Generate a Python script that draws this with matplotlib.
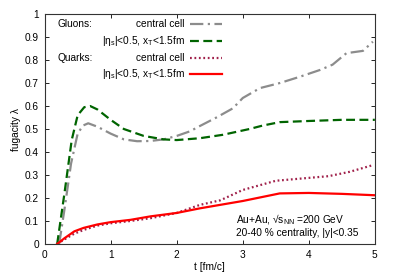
import numpy as np
import matplotlib
matplotlib.use("Agg")
import matplotlib.pyplot as plt

plt.rcParams['font.family'] = ['Liberation Sans', 'DejaVu Sans']
plt.rcParams['mathtext.fontset'] = 'custom'
plt.rcParams['mathtext.rm'] = 'Liberation Sans'

# ----------------------------------
# DATA
# ----------------------------------

t_glu_cc = [0.22, 0.3, 0.4, 0.5, 0.58, 0.66, 0.8, 1.0, 1.2, 1.4, 1.6, 1.8, 2.0, 2.2, 2.35,
            2.6, 2.85, 3.0, 3.26, 3.56, 3.86, 4.17, 4.36, 4.57, 4.82, 4.97]
lam_glu_cc = [0.0, 0.15, 0.35, 0.48, 0.515, 0.525, 0.51, 0.48, 0.455, 0.447, 0.448, 0.455, 0.47,
              0.49, 0.513, 0.55, 0.59, 0.635, 0.678, 0.70, 0.727, 0.757, 0.78, 0.83, 0.84, 0.88]

t_glu_sel = [0.19, 0.3, 0.41, 0.5, 0.6, 0.69, 0.8, 1.0, 1.2, 1.5, 1.8, 2.0, 2.35, 2.7, 3.1,
             3.3, 3.56, 4.0, 4.5, 5.0]
lam_glu_sel = [0.0, 0.22, 0.452, 0.56, 0.595, 0.60, 0.585, 0.54, 0.5, 0.47, 0.455, 0.452, 0.46,
               0.475, 0.50, 0.515, 0.53, 0.535, 0.54, 0.54]

t_q_cc = [0.19, 0.3, 0.45, 0.6, 0.8, 1.0, 1.3, 1.6, 2.0, 2.35, 2.66, 3.0, 3.5, 4.02, 4.3,
          4.62, 4.97]
lam_q_cc = [0.0, 0.02, 0.045, 0.062, 0.08, 0.09, 0.1, 0.112, 0.135, 0.17, 0.19, 0.235, 0.275,
            0.288, 0.295, 0.314, 0.343]

t_q_sel = [0.19, 0.3, 0.45, 0.59, 0.8, 1.0, 1.3, 1.6, 2.0, 2.35, 3.0, 3.56, 4.0, 4.5, 5.0]
lam_q_sel = [0.0, 0.025, 0.055, 0.07, 0.085, 0.095, 0.105, 0.12, 0.135, 0.155, 0.187, 0.22,
             0.222, 0.218, 0.212]

xticks = [0, 1, 2, 3, 4, 5]
yticks = [0, 0.1, 0.2, 0.3, 0.4, 0.5, 0.6, 0.7, 0.8, 0.9, 1]
yticklabels = ['0', '0.1', '0.2', '0.3', '0.4', '0.5', '0.6', '0.7', '0.8', '0.9', '1']

# ----------------------------------
# STYLES
# ----------------------------------

c_gray = '#8c8c8c'
c_green = '#006400'
c_dot = '#a0204a'
c_red = '#ff0000'
lw = 1.6

sty = [
    dict(color=c_gray, lw=lw, dashes=(6, 2, 1, 2)),
    dict(color=c_green, lw=lw, dashes=(4, 2)),
    dict(color=c_dot, lw=lw, dashes=(0.8, 1.2)),
    dict(color=c_red, lw=lw),
]

# ----------------------------------
# PLOT
# ----------------------------------

fig = plt.figure(figsize=(3.95, 2.76), dpi=100)
ax = fig.add_axes([0.113, 0.116, 0.836, 0.833])

ax.plot(t_glu_cc, lam_glu_cc, **sty[0])
ax.plot(t_glu_sel, lam_glu_sel, **sty[1])
ax.plot(t_q_cc, lam_q_cc, **sty[2])
ax.plot(t_q_sel, lam_q_sel, **sty[3])

ax.set_xlim(0, 5)
ax.set_ylim(0, 1)
ax.set_xticks(xticks)
ax.set_yticks(yticks)
ax.set_yticklabels(yticklabels)
ax.tick_params(direction='in', top=True, right=True, labelsize=7.3, length=3, width=0.6, pad=4)
for s in ax.spines.values():
    s.set_linewidth(0.8)
    s.set_color('#333333')

ax.set_xlabel("t [fm/c]", fontsize=7.3, labelpad=2)
ax.set_ylabel("fugacity λ", fontsize=7.3, labelpad=3)

# legend (gnuplot style: text right-aligned, sample on the right)
sel_label = "|η$_{\\rm s}$|<0.5, x$_{\\rm T}$<1.5fm"
labels = ["central cell", sel_label, "central cell", sel_label]
rows = [0.958, 0.884, 0.810, 0.740]
for i in range(4):
    ax.text(0.425, rows[i], labels[i], transform=ax.transAxes, ha='right', va='center',
            fontsize=7.3)
    ax.plot([0.44, 0.537], [rows[i], rows[i]], transform=ax.transAxes, **sty[i])
ax.text(0.038, rows[0], "Gluons:", transform=ax.transAxes, ha='left', va='center', fontsize=7.3)
ax.text(0.038, rows[2], "Quarks:", transform=ax.transAxes, ha='left', va='center', fontsize=7.3)

ax.text(0.578, 0.104, "Au+Au, √s$_{\\rm NN}$ =200 GeV", transform=ax.transAxes,
        ha='left', va='center', fontsize=7.3)
ax.text(0.578, 0.047, "20-40 % centrality, |y|<0.35", transform=ax.transAxes,
        ha='left', va='center', fontsize=7.3)

fig.savefig("out.png", dpi=100)
plt.close(fig)
